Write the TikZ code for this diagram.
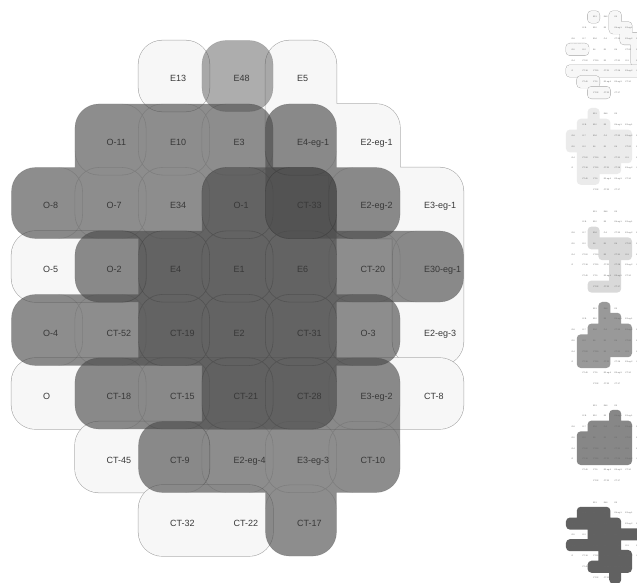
\documentclass[tikz,border=0pt]{standalone}
\usepackage{fontspec}
\usepackage{xstring}
\setmainfont{Liberation Sans}
\usetikzlibrary{calc}

\def\setWa{4/0,4/1,5/1,5/2,6/2,6/3,6/4}
\def\setWb{0/5,1/5,2/5,3/5,4/5,5/5,6/5}
\def\setWc{2/0}
\def\setWd{0/3,1/3}
\def\setWe{1/6,2/6}
\def\setWf{2/7,3/7}
\def\setS{3/0}
\def\setP{1/1,2/1,3/1,0/2,1/2,2/2,3/2,4/2,2/3,3/3,4/3,5/3,6/3,0/4,1/4,2/4,3/4,4/4,3/5,4/5,5/5,2/6,3/6,4/6,5/6,4/7}
\def\setQ{3/2,4/2,1/3,2/3,3/3,4/3,2/4,3/4,4/4,5/4,1/5,2/5,3/5,4/5}
\def\setR{4/1,4/2,5/2}
\def\setV{2/0,1/1,2/1,3/1,0/2,1/2,2/2,3/2,4/2,5/2,0/3,1/3,2/3,3/3,4/3,5/3,1/4,2/4,3/4,4/4,5/4,1/5,2/5,3/5,4/5,1/6,2/6}
\def\setA{2/2,2/3,3/3,4/3,5/3,3/4,4/4,5/4,4/5,4/6,2/7,3/7,4/7}
\def\setB{3/0,3/1,4/1,2/2,3/2,4/2,5/2,1/3,2/3,3/3,4/3,5/3,1/4,2/4,3/4,4/4,5/4,1/5,2/5,3/5}
\def\setC{4/1,2/2,3/2,4/2,5/2,1/3,2/3,3/3,4/3,5/3,1/4,2/4,3/4,4/4,5/4,1/5,2/5,3/5,4/5,5/5}

\def\labels{2/0/E13,3/0/E48,4/0/E5,
1/1/O-11,2/1/E10,3/1/E3,4/1/E4-eg-1,5/1/E2-eg-1,
0/2/O-8,1/2/O-7,2/2/E34,3/2/O-1,4/2/CT-33,5/2/E2-eg-2,6/2/E3-eg-1,
0/3/O-5,1/3/O-2,2/3/E4,3/3/E1,4/3/E6,5/3/CT-20,6/3/E30-eg-1,
0/4/O-4,1/4/CT-52,2/4/CT-19,3/4/E2,4/4/CT-31,5/4/O-3,6/4/E2-eg-3,
0/5/O,1/5/CT-18,2/5/CT-15,3/5/CT-21,4/5/CT-28,5/5/E3-eg-2,6/5/CT-8,
1/6/CT-45,2/6/CT-9,3/6/E2-eg-4,4/6/E3-eg-3,5/6/CT-10,
2/7/CT-32,3/7/CT-22,4/7/CT-17}

\def\hh{0.56}
\newcommand\mkblob[1]{\gdef\blobpath{}\gdef\bridgepath{}\edef\tmpset{,#1,}%
  \foreach \cx/\ry in #1 {%
    \xdef\blobpath{\blobpath (\cx-\hh,\ry-\hh) rectangle (\cx+\hh,\ry+\hh)}%
    \pgfmathtruncatemacro\nx{\cx+1}\pgfmathtruncatemacro\ny{\ry+1}%
    \IfSubStr{\tmpset}{,\nx/\ry,}{\xdef\bridgepath{\bridgepath (\cx,\ry-\hh) rectangle (\nx,\ry+\hh)}}{}%
    \IfSubStr{\tmpset}{,\cx/\ny,}{\xdef\bridgepath{\bridgepath (\cx-\hh,\ry) rectangle (\cx+\hh,\ny)}}{}%
  }}
\newcommand\blob[3]{\mkblob{#3}\path[#1] [rounded corners=#2] \blobpath [sharp corners] \bridgepath;}
\newcommand\cellrings[3]{\mkblob{#3}\path[#1] [rounded corners=#2] \blobpath;}
\newcommand\whiteset[3]{\blob{draw=black!35, line width=#2}{#1}{#3}
  \blob{fill=black!3}{#1}{#3}}
\newcommand\grayset[2]{\blob{fill=black!71, fill opacity=#1}{24pt}{#2}
  \cellrings{draw=black, draw opacity=0.1, line width=0.6pt}{24pt}{#2}}
\newcommand\thumb[3]{\begin{scope}[xshift=525pt, yshift={(59-97*#1)*1pt}, scale=0.17]
  \blob{fill=#2}{4pt}{#3}
  \foreach \cx/\ry/\txt in \labels {\node[tlbl] (m#1-\cx-\ry) at (\cx,\ry) {\txt};}
\end{scope}}

\begin{document}
\begin{tikzpicture}[x=63.5pt, y=-63.5pt,
  lbl/.style={anchor=base west, inner sep=0pt, xshift=-4pt, yshift=-6pt,
    font=\fontsize{9}{10}\selectfont, text=black!78},
  tlbl/.style={anchor=base west, inner sep=0pt, xshift=-0.7pt, yshift=-1pt,
    font=\fontsize{2}{2.4}\selectfont, text=black!60}]

\useasboundingbox (-47pt,76pt) rectangle (590pt,-507pt);

\whiteset{24pt}{1.1pt}{\setWa}
\whiteset{24pt}{1.1pt}{\setWb}
\whiteset{24pt}{1.1pt}{\setWc}
\whiteset{24pt}{1.1pt}{\setWd}
\whiteset{24pt}{1.1pt}{\setWe}
\whiteset{24pt}{1.1pt}{\setWf}

\grayset{0.45}{\setS}
\grayset{0.63}{\setP}
\grayset{0.63}{\setQ}
\grayset{0.63}{\setR}

\foreach \cx/\ry/\txt in \labels {\node[lbl] (t-\cx-\ry) at (\cx,\ry) {\txt};}

\begin{scope}[xshift=525pt, yshift=59pt, scale=0.17]
  \whiteset{4pt}{0.8pt}{\setWa}
  \whiteset{4pt}{0.8pt}{\setWb}
  \whiteset{4pt}{0.8pt}{\setWc}
  \whiteset{4pt}{0.8pt}{\setWd}
  \whiteset{4pt}{0.8pt}{\setWe}
  \whiteset{4pt}{0.8pt}{\setWf}
  \foreach \cx/\ry/\txt in \labels {\node[tlbl] (m0-\cx-\ry) at (\cx,\ry) {\txt};}
\end{scope}
\thumb{1}{black!8}{\setV}
\thumb{2}{black!15}{\setA}
\thumb{3}{black!40}{\setB}
\thumb{4}{black!47}{\setC}
\thumb{5}{black!62}{\setP}

\end{tikzpicture}
\end{document}
